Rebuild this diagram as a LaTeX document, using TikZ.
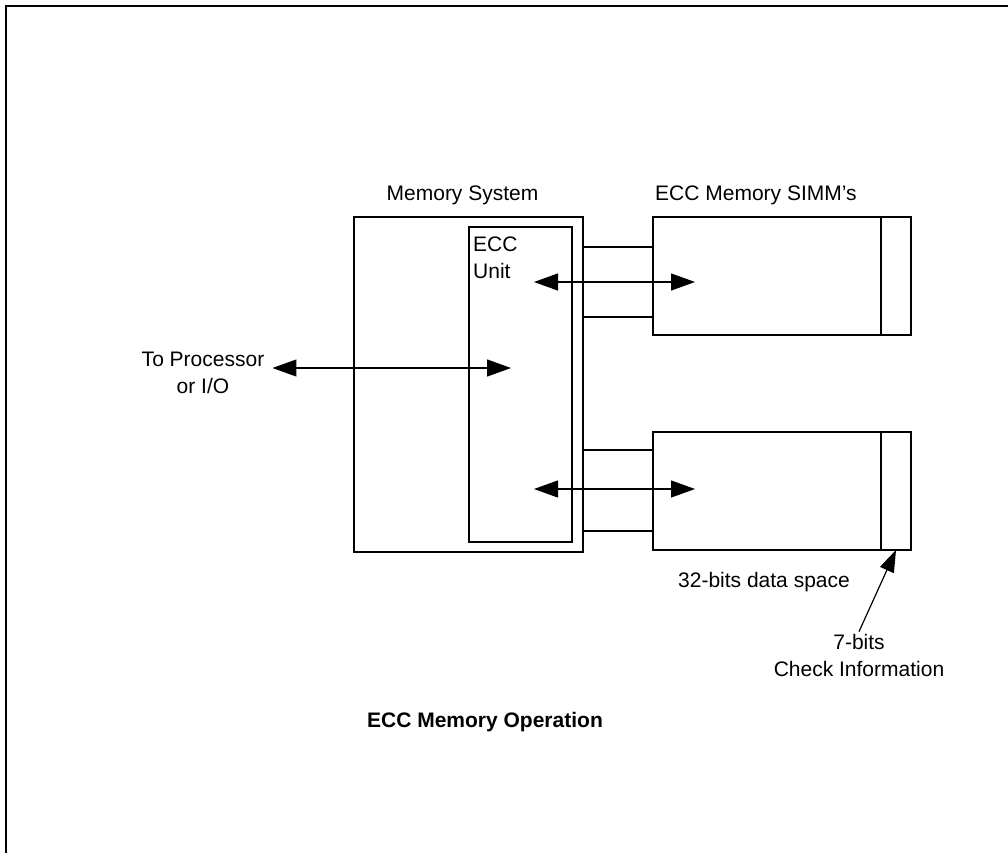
\documentclass[tikz,border=0pt]{standalone}
\usepackage{fontspec}
\setmainfont{Liberation Sans}
\usepackage{tikz}
\usetikzlibrary{arrows.meta, positioning}

\tikzstyle{unitbox} = [rectangle, draw=black, line width=1.1pt,
inner sep=0pt, outer sep=0pt, anchor=north west]
\tikzstyle{busbox} = [rectangle, draw=black, line width=1.4pt,
inner sep=0pt, outer sep=0pt, anchor=north west]
\tikzstyle{tag} = [font=\fontsize{21}{27}\selectfont, align=center, inner sep=2pt]
\tikzstyle{biarrow} = [{Triangle[length=24pt,width=17pt]}-{Triangle[length=24pt,width=17pt]}, line width=1.2pt]
\tikzstyle{onearrow} = [-{Triangle[length=22pt,width=15pt]}, line width=1.2pt]

\begin{document}
\begin{tikzpicture}[x=1pt, y=-1pt, node distance=10pt]
    \useasboundingbox (0,0) rectangle (1008,853);
    \draw[line width=1.6pt] (6,853) -- (6,6) -- (1008,6);

    \node (mem) [unitbox, minimum width=229pt, minimum height=335pt] at (354,217) {};
    \node (ecc) [unitbox, minimum width=103pt, minimum height=315pt] at (469,227) {};
    \node (simma) [unitbox, minimum width=258pt, minimum height=118pt] at (653,217) {};
    \node (simmb) [unitbox, minimum width=258pt, minimum height=118pt] at (653,432) {};
    \node (chka) [unitbox, minimum width=30pt, minimum height=118pt] at (881,217) {};
    \node (chkb) [unitbox, minimum width=30pt, minimum height=118pt] at (881,432) {};
    \node (busa) [busbox, minimum width=70pt, minimum height=70pt] at (583,247) {};
    \node (busb) [busbox, minimum width=70pt, minimum height=81pt] at (583,450) {};

    \node (memlbl) [tag, above=of mem, xshift=-6pt] {Memory System};
    \node (simmlbl) [tag, above right=10pt and 0pt of simma.north west] {ECC Memory SIMM's};
    \node (ecclbl) [tag, align=left, below right=8pt and 2pt of ecc.north west] {ECC\\Unit};
    \node (proc) [tag] at (203,373) {To Processor\\or I/O};
    \node (datalbl) [tag, anchor=north west] at (676,570) {32-bits data space};
    \node (chklbl) [tag] at (859,655) {7-bits\\Check Information};
    \node (caption) [tag, font=\fontsize{21}{27}\selectfont\bfseries] at (485,722) {ECC Memory Operation};

    \coordinate (procin) at (511,368);
    \coordinate (ecca) at (534,282);
    \coordinate (simmain) at (695,282);
    \coordinate (eccb) at (534,489);
    \coordinate (simmbin) at (695,489);

    \draw[biarrow] ([xshift=6pt]proc.east |- procin) -- (procin);
    \draw[biarrow] (ecca) -- (simmain);
    \draw[biarrow] (eccb) -- (simmbin);
    \draw[onearrow] (chklbl.north) -- (chkb.south);
\end{tikzpicture}
\end{document}
